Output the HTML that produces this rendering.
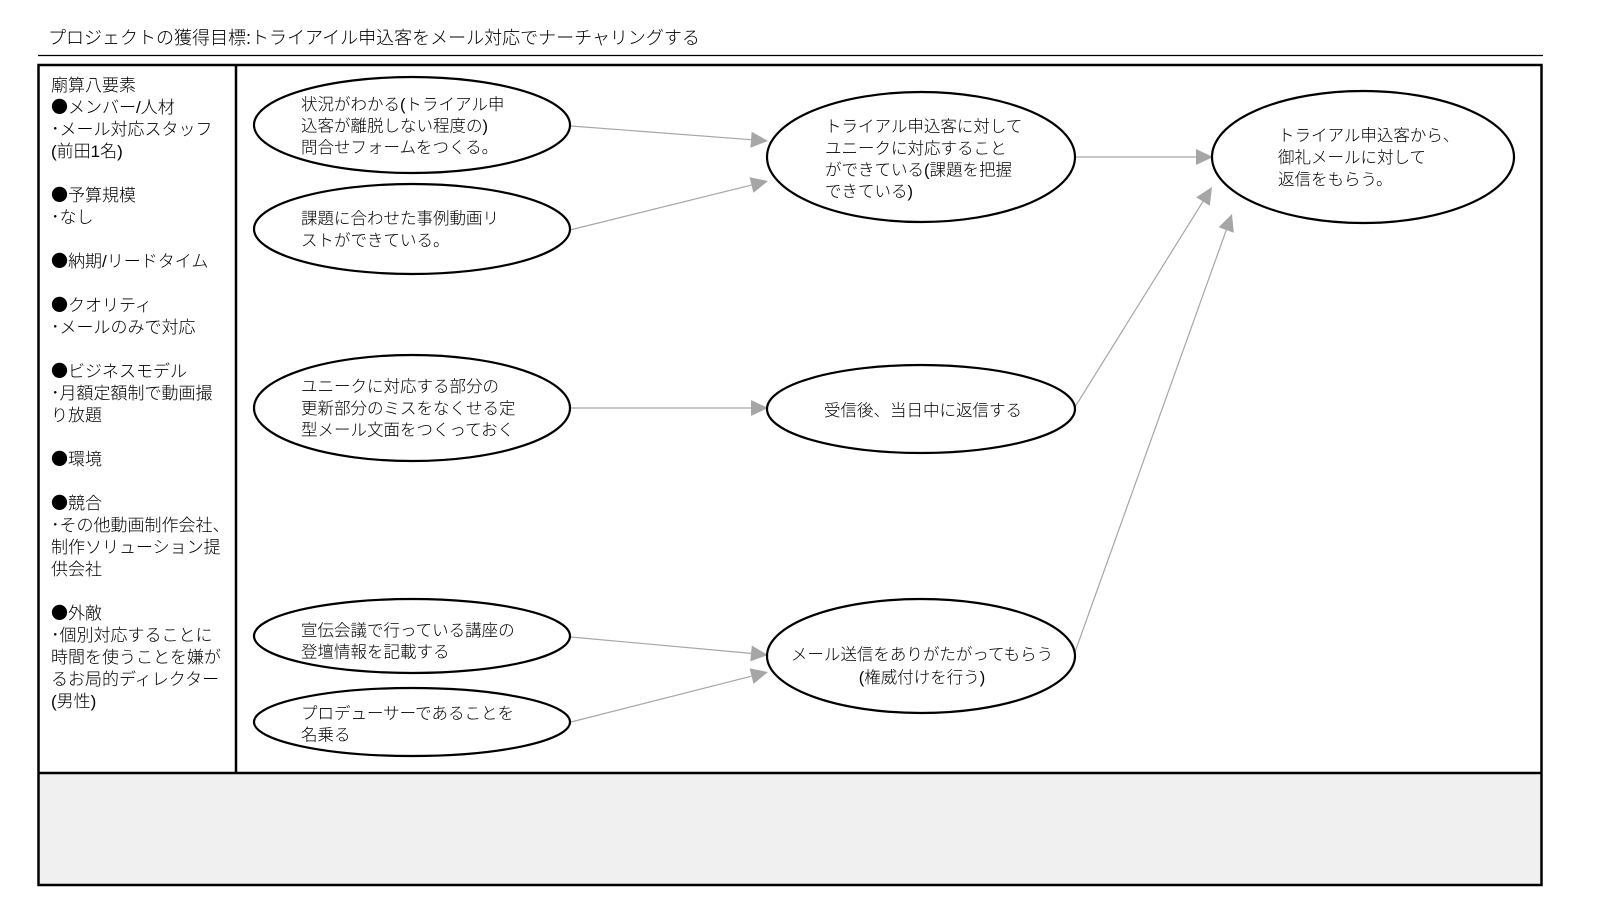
<!DOCTYPE html>
<html lang="ja">
<head>
<meta charset="utf-8">
<style>
  html, body { margin: 0; padding: 0; background: #fff; }
  body { width: 1600px; height: 900px; overflow: hidden; }
  svg { display: block; }
  text { font-family: "Liberation Sans", "Noto Sans CJK JP", sans-serif; fill: #000; font-weight: 300; }
  .cj { font-family: "Noto Sans CJK JP", sans-serif; }
</style>
</head>
<body>
<svg width="1600" height="900" viewBox="0 0 1600 900" xmlns="http://www.w3.org/2000/svg">
  <rect x="0" y="0" width="1600" height="900" fill="#fff"/>

  <!-- Title -->
  <text x="48" y="44" font-size="18">プロジェクトの獲得目標:トライアイル申込客をメール対応でナーチャリングする</text>
  <line x1="38" y1="55.5" x2="1543" y2="55.5" stroke="#000" stroke-width="1.3"/>

  <!-- Main frame -->
  <rect x="38.5" y="773" width="1503" height="112" fill="#f0f0f0"/>
  <rect x="38.5" y="65" width="1503" height="820" fill="none" stroke="#000" stroke-width="2.5"/>
  <line x1="38.5" y1="773" x2="1541.5" y2="773" stroke="#000" stroke-width="2.5"/>
  <line x1="236" y1="65" x2="236" y2="773" stroke="#000" stroke-width="2.5"/>

  <!-- Left column -->
  <g font-size="17">
    <text x="51" y="91">廟算八要素</text>
    <text x="51" y="113"><tspan class="cj">●</tspan>メンバー/人材</text>
    <text x="51" y="135">･メール対応スタッフ</text>
    <text x="51" y="157">(前田1名)</text>
    <text x="51" y="201"><tspan class="cj">●</tspan>予算規模</text>
    <text x="51" y="223">･なし</text>
    <text x="51" y="267"><tspan class="cj">●</tspan>納期/リードタイム</text>
    <text x="51" y="311"><tspan class="cj">●</tspan>クオリティ</text>
    <text x="51" y="333">･メールのみで対応</text>
    <text x="51" y="377"><tspan class="cj">●</tspan>ビジネスモデル</text>
    <text x="51" y="399">･月額定額制で動画撮</text>
    <text x="51" y="421">り放題</text>
    <text x="51" y="465"><tspan class="cj">●</tspan>環境</text>
    <text x="51" y="509"><tspan class="cj">●</tspan>競合</text>
    <text x="51" y="531">･その他動画制作会社、</text>
    <text x="51" y="553">制作ソリューション提</text>
    <text x="51" y="575">供会社</text>
    <text x="51" y="619"><tspan class="cj">●</tspan>外敵</text>
    <text x="51" y="641">･個別対応することに</text>
    <text x="51" y="663">時間を使うことを嫌が</text>
    <text x="51" y="685">るお局的ディレクター</text>
    <text x="51" y="707">(男性)</text>
  </g>

  <!-- Connectors -->
  <g stroke="#a6a6a6" stroke-width="1.2" fill="none">
    <line x1="571" y1="126" x2="751" y2="139.7"/>
    <line x1="570" y1="230" x2="751.5" y2="185.1"/>
    <line x1="1075" y1="157" x2="1196" y2="157"/>
    <line x1="570" y1="408" x2="751" y2="408"/>
    <line x1="1075" y1="407" x2="1203" y2="201.4"/>
    <line x1="571" y1="637" x2="751" y2="653.4"/>
    <line x1="571" y1="722" x2="751.5" y2="676.2"/>
    <line x1="1075" y1="652" x2="1226.3" y2="230"/>
  </g>
  <g fill="#a6a6a6">
    <polygon points="768,141 750.4,147.7 751.7,131.7"/>
    <polygon points="768,181 753.4,192.9 749.6,177.3"/>
    <polygon points="1213,157 1196,165 1196,149"/>
    <polygon points="768,408 751,416 751,400"/>
    <polygon points="1212,187 1209.8,205.7 1196.2,197.2"/>
    <polygon points="768,655 750.3,661.4 751.8,645.5"/>
    <polygon points="768,672 753.5,683.9 749.6,668.4"/>
    <polygon points="1232,214 1233.8,232.7 1218.7,227.3"/>
  </g>

  <!-- Ellipses -->
  <g fill="#fff" stroke="#000" stroke-width="2.2">
    <ellipse cx="412" cy="125" rx="158" ry="48"/>
    <ellipse cx="412" cy="229" rx="158" ry="45"/>
    <ellipse cx="412" cy="408" rx="158" ry="53"/>
    <ellipse cx="412" cy="636" rx="158" ry="37"/>
    <ellipse cx="412" cy="722" rx="158" ry="34"/>
    <ellipse cx="921" cy="157" rx="154" ry="65"/>
    <ellipse cx="921" cy="409" rx="154" ry="44"/>
    <ellipse cx="921" cy="656" rx="154" ry="57"/>
    <ellipse cx="1363" cy="157" rx="151" ry="66"/>
  </g>

  <!-- Ellipse texts -->
  <g font-size="16.5">
    <text x="301" y="110">状況がわかる(トライアル申</text>
    <text x="301" y="131.5">込客が離脱しない程度の)</text>
    <text x="301" y="153">問合せフォームをつくる。</text>

    <text x="301" y="224">課題に合わせた事例動画リ</text>
    <text x="301" y="246">ストができている。</text>

    <text x="301" y="392">ユニークに対応する部分の</text>
    <text x="301" y="414">更新部分のミスをなくせる定</text>
    <text x="301" y="435.5">型メール文面をつくっておく</text>

    <text x="301" y="636">宣伝会議で行っている講座の</text>
    <text x="301" y="657.5">登壇情報を記載する</text>

    <text x="301" y="719">プロデューサーであることを</text>
    <text x="301" y="740.5">名乗る</text>

    <text x="825" y="132">トライアル申込客に対して</text>
    <text x="825" y="154">ユニークに対応すること</text>
    <text x="825" y="175.5">ができている(課題を把握</text>
    <text x="825" y="197">できている)</text>

    <text x="923" y="416" text-anchor="middle">受信後、当日中に返信する</text>

    <text x="922" y="660" text-anchor="middle">メール送信をありがたがってもらう</text>
    <text x="922" y="683" text-anchor="middle">(権威付けを行う)</text>

    <text x="1278" y="141">トライアル申込客から、</text>
    <text x="1278" y="163">御礼メールに対して</text>
    <text x="1278" y="185">返信をもらう。</text>
  </g>
</svg>
</body>
</html>
